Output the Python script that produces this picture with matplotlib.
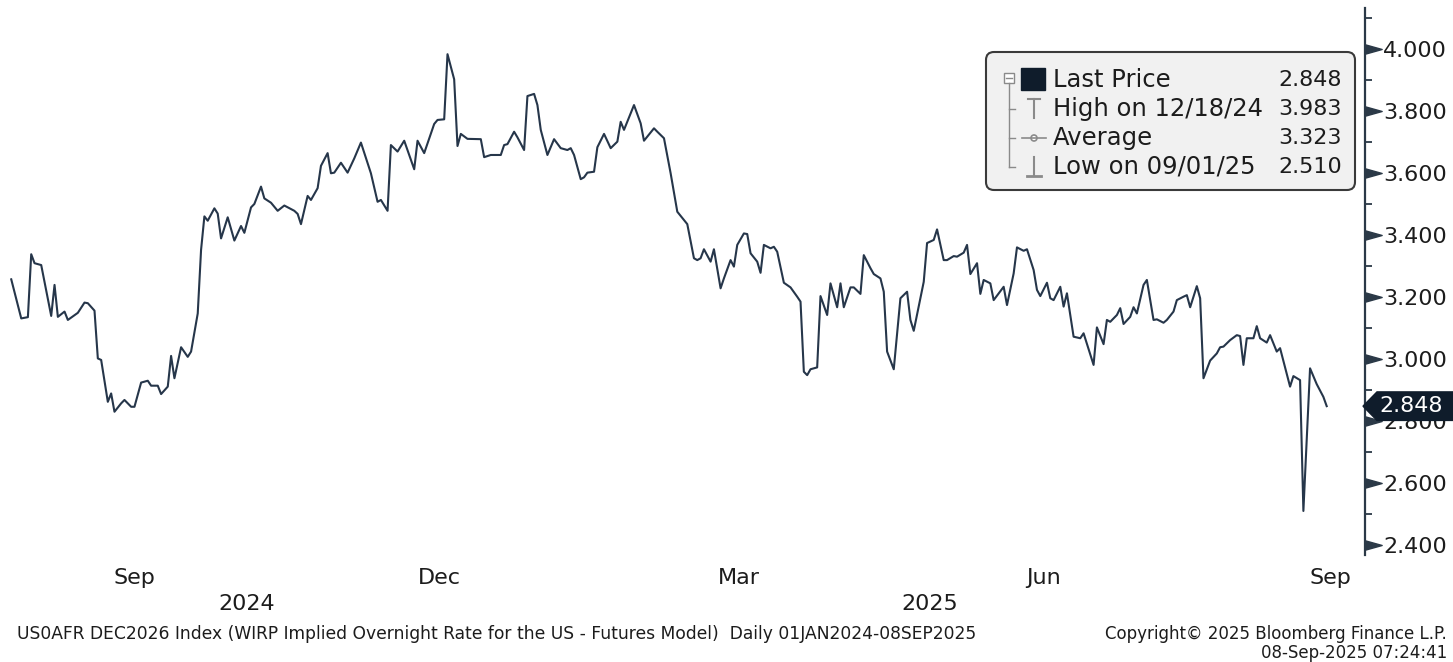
import matplotlib.pyplot as plt
import matplotlib.transforms as mtransforms
from matplotlib.patches import FancyBboxPatch, Polygon, Rectangle, Circle
from matplotlib.lines import Line2D
from matplotlib.path import Path
from matplotlib.ticker import FormatStrFormatter
import pandas as pd

plt.rcParams['font.family'] = ['DejaVu Sans']

# daily values (US0AFR DEC2026 Index)
dates = [
    "2024-08-09", "2024-08-12", "2024-08-14", "2024-08-15", "2024-08-16", "2024-08-18", "2024-08-21", "2024-08-22", "2024-08-23", "2024-08-25",
    "2024-08-26", "2024-08-29", "2024-08-31", "2024-09-01", "2024-09-03", "2024-09-04", "2024-09-05", "2024-09-07", "2024-09-08", "2024-09-09",
    "2024-09-11", "2024-09-12", "2024-09-14", "2024-09-15", "2024-09-17", "2024-09-19", "2024-09-20", "2024-09-22", "2024-09-23", "2024-09-25",
    "2024-09-26", "2024-09-27", "2024-09-29", "2024-10-01", "2024-10-02", "2024-10-04", "2024-10-05", "2024-10-06", "2024-10-07", "2024-10-09",
    "2024-10-10", "2024-10-11", "2024-10-13", "2024-10-15", "2024-10-17", "2024-10-18", "2024-10-20", "2024-10-21", "2024-10-23", "2024-10-24",
    "2024-10-26", "2024-10-28", "2024-10-30", "2024-11-02", "2024-11-03", "2024-11-04", "2024-11-06", "2024-11-07", "2024-11-09", "2024-11-10",
    "2024-11-12", "2024-11-13", "2024-11-14", "2024-11-16", "2024-11-18", "2024-11-20", "2024-11-22", "2024-11-25", "2024-11-27", "2024-11-28",
    "2024-11-30", "2024-12-01", "2024-12-03", "2024-12-05", "2024-12-08", "2024-12-09", "2024-12-11", "2024-12-14", "2024-12-15", "2024-12-17",
    "2024-12-18", "2024-12-20", "2024-12-21", "2024-12-22", "2024-12-24", "2024-12-28", "2024-12-29", "2024-12-31", "2025-01-03", "2025-01-04",
    "2025-01-05", "2025-01-07", "2025-01-08", "2025-01-10", "2025-01-11", "2025-01-13", "2025-01-14", "2025-01-15", "2025-01-17", "2025-01-19",
    "2025-01-21", "2025-01-23", "2025-01-24", "2025-01-25", "2025-01-27", "2025-01-28", "2025-01-29", "2025-01-31", "2025-02-01", "2025-02-03",
    "2025-02-05", "2025-02-07", "2025-02-08", "2025-02-09", "2025-02-12", "2025-02-14", "2025-02-15", "2025-02-18", "2025-02-19", "2025-02-21",
    "2025-02-23", "2025-02-25", "2025-02-27", "2025-02-28", "2025-03-02", "2025-03-03", "2025-03-04", "2025-03-05", "2025-03-07", "2025-03-08",
    "2025-03-10", "2025-03-11", "2025-03-13", "2025-03-14", "2025-03-15", "2025-03-17", "2025-03-18", "2025-03-19", "2025-03-21", "2025-03-22",
    "2025-03-23", "2025-03-25", "2025-03-26", "2025-03-27", "2025-03-29", "2025-03-31", "2025-04-02", "2025-04-03", "2025-04-04", "2025-04-05",
    "2025-04-06", "2025-04-08", "2025-04-09", "2025-04-11", "2025-04-12", "2025-04-14", "2025-04-15", "2025-04-16", "2025-04-18", "2025-04-19",
    "2025-04-21", "2025-04-22", "2025-04-24", "2025-04-25", "2025-04-27", "2025-04-28", "2025-04-29", "2025-05-01", "2025-05-03", "2025-05-05",
    "2025-05-06", "2025-05-07", "2025-05-10", "2025-05-11", "2025-05-13", "2025-05-14", "2025-05-16", "2025-05-17", "2025-05-19", "2025-05-20",
    "2025-05-22", "2025-05-23", "2025-05-24", "2025-05-26", "2025-05-27", "2025-05-28", "2025-05-30", "2025-05-31", "2025-06-03", "2025-06-04",
    "2025-06-06", "2025-06-07", "2025-06-09", "2025-06-10", "2025-06-12", "2025-06-13", "2025-06-14", "2025-06-16", "2025-06-17", "2025-06-18",
    "2025-06-20", "2025-06-21", "2025-06-22", "2025-06-24", "2025-06-26", "2025-06-27", "2025-06-30", "2025-07-01", "2025-07-03", "2025-07-04",
    "2025-07-05", "2025-07-07", "2025-07-08", "2025-07-09", "2025-07-11", "2025-07-12", "2025-07-13", "2025-07-15", "2025-07-16", "2025-07-18",
    "2025-07-19", "2025-07-21", "2025-07-22", "2025-07-24", "2025-07-25", "2025-07-27", "2025-07-28", "2025-07-29", "2025-07-31", "2025-08-01",
    "2025-08-02", "2025-08-04", "2025-08-06", "2025-08-07", "2025-08-08", "2025-08-10", "2025-08-12", "2025-08-13", "2025-08-14", "2025-08-15",
    "2025-08-17", "2025-08-18", "2025-08-19", "2025-08-21", "2025-08-22", "2025-08-24", "2025-08-25", "2025-08-28", "2025-08-29", "2025-08-31",
    "2025-09-01", "2025-09-03", "2025-09-05", "2025-09-07", "2025-09-08",
]
values = [
    3.257, 3.131, 3.135, 3.338, 3.309, 3.303, 3.139, 3.239, 3.136, 3.153,
    3.126, 3.149, 3.182, 3.180, 3.156, 3.002, 2.997, 2.862, 2.889, 2.830,
    2.857, 2.868, 2.846, 2.846, 2.924, 2.930, 2.914, 2.914, 2.887, 2.911,
    3.010, 2.938, 3.038, 3.007, 3.024, 3.147, 3.352, 3.460, 3.446, 3.486,
    3.469, 3.389, 3.457, 3.382, 3.429, 3.407, 3.489, 3.500, 3.556, 3.518,
    3.504, 3.478, 3.495, 3.478, 3.468, 3.435, 3.526, 3.513, 3.551, 3.623,
    3.664, 3.599, 3.601, 3.633, 3.601, 3.647, 3.698, 3.599, 3.507, 3.513,
    3.478, 3.690, 3.669, 3.704, 3.612, 3.704, 3.664, 3.758, 3.771, 3.773,
    3.983, 3.902, 3.687, 3.726, 3.710, 3.709, 3.651, 3.658, 3.658, 3.690,
    3.693, 3.733, 3.715, 3.674, 3.848, 3.855, 3.819, 3.739, 3.658, 3.709,
    3.680, 3.674, 3.680, 3.658, 3.580, 3.586, 3.601, 3.604, 3.683, 3.726,
    3.680, 3.701, 3.765, 3.739, 3.819, 3.760, 3.704, 3.744, 3.733, 3.712,
    3.599, 3.475, 3.448, 3.435, 3.325, 3.319, 3.325, 3.354, 3.314, 3.354,
    3.228, 3.260, 3.319, 3.298, 3.368, 3.405, 3.403, 3.341, 3.314, 3.278,
    3.368, 3.357, 3.362, 3.346, 3.246, 3.231, 3.201, 3.185, 2.959, 2.948,
    2.967, 2.973, 3.203, 3.142, 3.244, 3.167, 3.244, 3.167, 3.231, 3.231,
    3.210, 3.335, 3.293, 3.274, 3.260, 3.217, 3.024, 2.967, 3.196, 3.217,
    3.126, 3.091, 3.249, 3.374, 3.384, 3.418, 3.319, 3.319, 3.332, 3.330,
    3.343, 3.368, 3.274, 3.309, 3.210, 3.255, 3.244, 3.190, 3.233, 3.174,
    3.276, 3.360, 3.349, 3.354, 3.287, 3.223, 3.203, 3.246, 3.196, 3.190,
    3.233, 3.169, 3.212, 3.072, 3.067, 3.083, 2.981, 3.102, 3.048, 3.126,
    3.120, 3.142, 3.164, 3.113, 3.136, 3.167, 3.147, 3.239, 3.255, 3.126,
    3.128, 3.117, 3.126, 3.153, 3.190, 3.201, 3.206, 3.167, 3.235, 3.196,
    2.938, 2.995, 3.018, 3.038, 3.040, 3.061, 3.077, 3.074, 2.981, 3.067,
    3.067, 3.106, 3.067, 3.053, 3.077, 3.024, 3.035, 2.911, 2.945, 2.932,
    2.510, 2.970, 2.919, 2.878, 2.848,
]

legend_labels = ["Last Price", "High on 12/18/24", "Average", "Low on 09/01/25"]
legend_values = [2.848, 3.983, 3.323, 2.510]
last_price = 2.848

ytick_major = [2.4, 2.6, 2.8, 3.0, 3.2, 3.4, 3.6, 3.8, 4.0]
ytick_minor = [2.5, 2.7, 2.9, 3.1, 3.3, 3.5, 3.7, 3.9, 4.1]
month_labels = ["Sep", "Dec", "Mar", "Jun", "Sep"]
month_starts = ["2024-09-01", "2024-12-01", "2025-03-01", "2025-06-01", "2025-09-01"]
year_labels = ["2024", "2025"]

footer_left = "US0AFR DEC2026 Index (WIRP Implied Overnight Rate for the US - Futures Model)  Daily 01JAN2024-08SEP2025"
footer_right1 = "Copyright\u00a9 2025 Bloomberg Finance L.P."
footer_right2 = "08-Sep-2025 07:24:41"

line_col = "#26364a"
axis_col = "#2b3947"
text_col = "#1c1c1c"

W, H = 1453, 662
fig = plt.figure(figsize=(W / 100, H / 100), dpi=100)
ax = fig.add_axes([0, 107 / H, 1365 / W, 547 / H])
pix = mtransforms.Affine2D().scale(1, -1).translate(0, H)  # pixels from top-left

x = pd.to_datetime(dates)
ax.plot(x, values, color=line_col, lw=1.5, solid_joinstyle='round')

x0 = pd.Timestamp("2024-08-05 15:00")
x1 = pd.Timestamp("2025-09-19 12:00")
ax.set_xlim(x0, x1)
ax.set_ylim(2.368, 4.132)

for s in ["top", "left", "bottom"]:
    ax.spines[s].set_visible(False)
ax.spines["right"].set_color(axis_col)
ax.spines["right"].set_linewidth(1.6)

# y axis on the right, Bloomberg style arrow ticks
ax.yaxis.tick_right()
ax.set_yticks(ytick_major)
ax.set_yticks(ytick_minor, minor=True)
ax.yaxis.set_major_formatter(FormatStrFormatter('%.3f'))
ax.tick_params(axis='y', which='major', length=0, pad=13, labelsize=16, labelcolor=text_col)
ax.tick_params(axis='y', which='minor', length=5, width=1.3, color=axis_col)
tri = Path([(0, -0.28), (1, 0), (0, 0.28), (0, -0.28)],
           [Path.MOVETO, Path.LINETO, Path.LINETO, Path.CLOSEPOLY])
ax.plot([1] * len(ytick_major), ytick_major, ls='none', marker=tri, ms=24,
        color=axis_col, transform=ax.get_yaxis_transform(), clip_on=False)

# month labels centred on the visible part of each month
centers = []
for m in month_starts:
    a = max(pd.Timestamp(m), x0)
    b = min(pd.Timestamp(m) + pd.offsets.MonthBegin(1), x1)
    centers.append(a + (b - a) / 2 - pd.Timedelta(days=1))
ax.set_xticks(centers)
ax.set_xticklabels(month_labels)
ax.tick_params(axis='x', length=0, pad=9, labelsize=16, labelcolor=text_col)

yr_tr = mtransforms.blended_transform_factory(ax.transData, pix)
for yl in year_labels:
    a = max(pd.Timestamp(yl + "-01-01"), x0)
    b = min(pd.Timestamp(str(int(yl) + 1) + "-01-01"), x1)
    ax.text(a + (b - a) / 2, 604, yl, transform=yr_tr, ha='center', va='center',
            fontsize=16, color=text_col, clip_on=False)

# legend box
fig.add_artist(FancyBboxPatch((986, 52), 369, 138, boxstyle="round,pad=0,rounding_size=8",
                              transform=pix, fc="#f1f1f1", ec="#3a3a3a", lw=1.5))
rows = [80, 109, 138, 167]
grey = "#8a8a8a"
fig.add_artist(Rectangle((1003.5, 73), 10, 10, transform=pix, fc="white", ec=grey, lw=1))
fig.add_artist(Line2D([1005.5, 1011.5], [78, 78], transform=pix, color=grey, lw=1))
fig.add_artist(Line2D([1008.5, 1008.5], [83, rows[3]], transform=pix, color=grey, lw=1))
for r in rows[1:]:
    fig.add_artist(Line2D([1008.5, 1015], [r, r], transform=pix, color=grey, lw=1))
fig.add_artist(Rectangle((1021, 68), 24, 22, transform=pix, fc="#0f1c2b", ec="#0f1c2b"))
fig.add_artist(Line2D([1028, 1040], [99, 99], transform=pix, color=grey, lw=1.5))
fig.add_artist(Line2D([1034, 1034], [99, 118], transform=pix, color=grey, lw=1.5))
fig.add_artist(Line2D([1022, 1046], [rows[2], rows[2]], transform=pix, color=grey, lw=1.2))
fig.add_artist(Circle((1034, rows[2]), 3, transform=pix, fc="white", ec=grey, lw=1.2))
fig.add_artist(Line2D([1034, 1034], [157, 176], transform=pix, color=grey, lw=1.5))
fig.add_artist(Line2D([1027, 1041], [176, 176], transform=pix, color=grey, lw=2))
for r, lab, val in zip(rows, legend_labels, legend_values):
    fig.text(1053, r, lab, transform=pix, ha='left', va='center', fontsize=17.5, color=text_col)
    fig.text(1342, r, f"{val:.3f}", transform=pix, ha='right', va='center', fontsize=16, color=text_col)

# last price tag
tag_tr = mtransforms.blended_transform_factory(pix, ax.transData)
hh = 0.046
fig.add_artist(Polygon([(1363, last_price), (1377, last_price + hh), (1453, last_price + hh),
                        (1453, last_price - hh), (1377, last_price - hh)],
                       closed=True, transform=tag_tr, fc="#0f1c2b", ec="#0f1c2b", zorder=5))
fig.text(1411, last_price, f"{last_price:.3f}", transform=tag_tr, ha='center', va='center',
         fontsize=16, color="white", zorder=6)

# footer
fig.text(17, 634, footer_left, transform=pix, ha='left', va='center', fontsize=12.3, color=text_col)
fig.text(1447, 634, footer_right1, transform=pix, ha='right', va='center', fontsize=12, color=text_col)
fig.text(1447, 653, footer_right2, transform=pix, ha='right', va='center', fontsize=12, color=text_col)

fig.savefig("out.png", dpi=100)
